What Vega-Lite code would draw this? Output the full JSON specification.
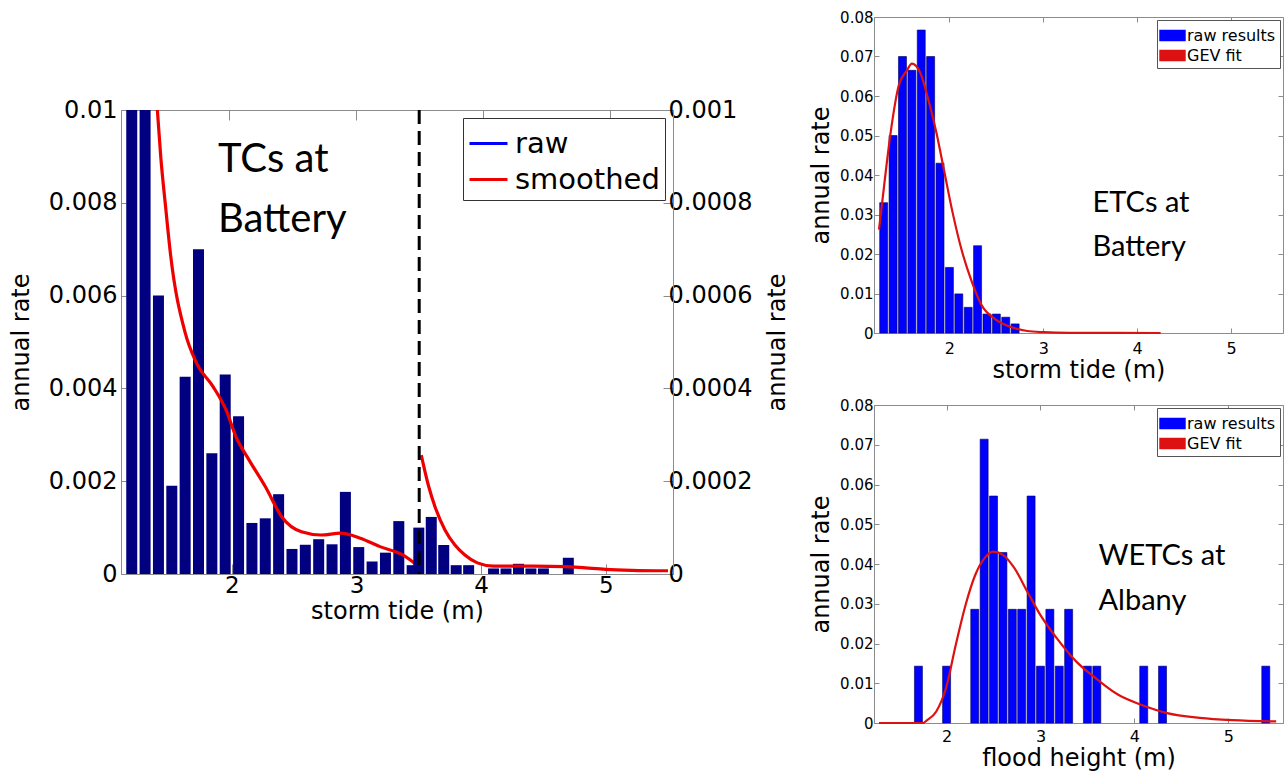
{
  "$schema": "https://vega.github.io/schema/vega-lite/v6.json",
  "padding": {"left": 8, "top": 9, "right": 0, "bottom": 0},
  "background": "white",
  "datasets": {
    "tcLowBars": [
      {"stormTide": 1.3, "rate": 0.0185}, {"stormTide": 1.4, "rate": 0.0125},
      {"stormTide": 1.5, "rate": 0.0060}, {"stormTide": 1.6, "rate": 0.0019},
      {"stormTide": 1.7, "rate": 0.00425}, {"stormTide": 1.8, "rate": 0.0070},
      {"stormTide": 1.9, "rate": 0.0026}, {"stormTide": 2.0, "rate": 0.0043},
      {"stormTide": 2.1, "rate": 0.0034}, {"stormTide": 2.2, "rate": 0.0011},
      {"stormTide": 2.3, "rate": 0.0012}, {"stormTide": 2.4, "rate": 0.00172},
      {"stormTide": 2.5, "rate": 0.00054}, {"stormTide": 2.6, "rate": 0.00063},
      {"stormTide": 2.7, "rate": 0.00075}, {"stormTide": 2.8, "rate": 0.00064},
      {"stormTide": 2.9, "rate": 0.00177}, {"stormTide": 3.0, "rate": 0.00058},
      {"stormTide": 3.1, "rate": 0.00027}, {"stormTide": 3.2, "rate": 0.00046},
      {"stormTide": 3.3, "rate": 0.00114}, {"stormTide": 3.4, "rate": 0.00019}
    ],
    "tcLowLine": [
      {"stormTide": 1.35, "rate": 0.0160}, {"stormTide": 1.43, "rate": 0.0125},
      {"stormTide": 1.492, "rate": 0.0100}, {"stormTide": 1.517, "rate": 0.0090},
      {"stormTide": 1.554, "rate": 0.0079}, {"stormTide": 1.59, "rate": 0.0069},
      {"stormTide": 1.70, "rate": 0.0052}, {"stormTide": 1.786, "rate": 0.00454},
      {"stormTide": 1.909, "rate": 0.00404}, {"stormTide": 2.007, "rate": 0.00353},
      {"stormTide": 2.08, "rate": 0.00296}, {"stormTide": 2.178, "rate": 0.00246},
      {"stormTide": 2.301, "rate": 0.00188}, {"stormTide": 2.424, "rate": 0.00123},
      {"stormTide": 2.571, "rate": 0.00091}, {"stormTide": 2.718, "rate": 0.00084},
      {"stormTide": 2.865, "rate": 0.00088}, {"stormTide": 3.012, "rate": 0.00077},
      {"stormTide": 3.159, "rate": 0.00059}, {"stormTide": 3.33, "rate": 0.00041},
      {"stormTide": 3.453, "rate": 0.00015}
    ],
    "tcHighBars": [
      {"stormTide": 3.5, "rate": 0.00010}, {"stormTide": 3.6, "rate": 0.000123},
      {"stormTide": 3.7, "rate": 0.0000625}, {"stormTide": 3.8, "rate": 0.000019},
      {"stormTide": 3.9, "rate": 0.000019}, {"stormTide": 4.1, "rate": 0.000012},
      {"stormTide": 4.2, "rate": 0.000012}, {"stormTide": 4.3, "rate": 0.000022},
      {"stormTide": 4.4, "rate": 0.000012}, {"stormTide": 4.5, "rate": 0.000012},
      {"stormTide": 4.7, "rate": 0.000035}
    ],
    "tcHighLine": [
      {"stormTide": 3.52, "rate": 0.000256}, {"stormTide": 3.58, "rate": 0.000188},
      {"stormTide": 3.63, "rate": 0.000145}, {"stormTide": 3.71, "rate": 0.000095},
      {"stormTide": 3.79, "rate": 0.0000625}, {"stormTide": 3.87, "rate": 0.000041},
      {"stormTide": 3.97, "rate": 0.000024}, {"stormTide": 4.10, "rate": 0.000017},
      {"stormTide": 4.42, "rate": 0.000017}, {"stormTide": 4.68, "rate": 0.000016},
      {"stormTide": 4.84, "rate": 0.000013}, {"stormTide": 5.0, "rate": 0.00001},
      {"stormTide": 5.21, "rate": 0.000008}, {"stormTide": 5.5, "rate": 0.000007}
    ],
    "etcBars": [
      {"stormTide": 1.3, "rate": 0.033}, {"stormTide": 1.4, "rate": 0.050},
      {"stormTide": 1.5, "rate": 0.070}, {"stormTide": 1.6, "rate": 0.0665},
      {"stormTide": 1.7, "rate": 0.0767}, {"stormTide": 1.8, "rate": 0.070},
      {"stormTide": 1.9, "rate": 0.043}, {"stormTide": 2.0, "rate": 0.0166},
      {"stormTide": 2.1, "rate": 0.0099}, {"stormTide": 2.2, "rate": 0.0065},
      {"stormTide": 2.3, "rate": 0.0221}, {"stormTide": 2.4, "rate": 0.0048},
      {"stormTide": 2.5, "rate": 0.0048}, {"stormTide": 2.6, "rate": 0.0040},
      {"stormTide": 2.7, "rate": 0.0023}
    ],
    "etcFit": [
      {"stormTide": 1.25, "rate": 0.0262}, {"stormTide": 1.305, "rate": 0.0374},
      {"stormTide": 1.375, "rate": 0.0509}, {"stormTide": 1.461, "rate": 0.0627},
      {"stormTide": 1.548, "rate": 0.0665}, {"stormTide": 1.60, "rate": 0.0682},
      {"stormTide": 1.686, "rate": 0.0661}, {"stormTide": 1.773, "rate": 0.0593},
      {"stormTide": 1.86, "rate": 0.0509}, {"stormTide": 1.946, "rate": 0.0408},
      {"stormTide": 2.033, "rate": 0.0306}, {"stormTide": 2.136, "rate": 0.0205},
      {"stormTide": 2.24, "rate": 0.0129}, {"stormTide": 2.344, "rate": 0.0070},
      {"stormTide": 2.483, "rate": 0.0036}, {"stormTide": 2.656, "rate": 0.0015},
      {"stormTide": 2.829, "rate": 0.0005}, {"stormTide": 3.003, "rate": 0.0002},
      {"stormTide": 3.279, "rate": 0.00003}, {"stormTide": 4.25, "rate": 0.0}
    ],
    "wetcBars": [
      {"floodHeight": 1.7, "rate": 0.0143}, {"floodHeight": 2.0, "rate": 0.0143},
      {"floodHeight": 2.3, "rate": 0.0286}, {"floodHeight": 2.4, "rate": 0.0714},
      {"floodHeight": 2.5, "rate": 0.0571}, {"floodHeight": 2.6, "rate": 0.0429},
      {"floodHeight": 2.7, "rate": 0.0286}, {"floodHeight": 2.8, "rate": 0.0286},
      {"floodHeight": 2.9, "rate": 0.0571}, {"floodHeight": 3.0, "rate": 0.0143},
      {"floodHeight": 3.1, "rate": 0.0286}, {"floodHeight": 3.2, "rate": 0.0143},
      {"floodHeight": 3.3, "rate": 0.0286}, {"floodHeight": 3.5, "rate": 0.0143},
      {"floodHeight": 3.6, "rate": 0.0143}, {"floodHeight": 4.1, "rate": 0.0143},
      {"floodHeight": 4.3, "rate": 0.0143}, {"floodHeight": 5.4, "rate": 0.0143}
    ],
    "wetcFit": [
      {"floodHeight": 1.28, "rate": 0.0}, {"floodHeight": 1.751, "rate": 0.0},
      {"floodHeight": 1.786, "rate": 0.0006}, {"floodHeight": 1.89, "rate": 0.0029},
      {"floodHeight": 1.994, "rate": 0.0088}, {"floodHeight": 2.098, "rate": 0.0197},
      {"floodHeight": 2.202, "rate": 0.0297}, {"floodHeight": 2.306, "rate": 0.0373},
      {"floodHeight": 2.409, "rate": 0.0416}, {"floodHeight": 2.496, "rate": 0.0431},
      {"floodHeight": 2.60, "rate": 0.0423}, {"floodHeight": 2.721, "rate": 0.0390},
      {"floodHeight": 2.859, "rate": 0.0331}, {"floodHeight": 2.998, "rate": 0.0272},
      {"floodHeight": 3.171, "rate": 0.0214}, {"floodHeight": 3.379, "rate": 0.0155},
      {"floodHeight": 3.587, "rate": 0.0113}, {"floodHeight": 3.829, "rate": 0.0071},
      {"floodHeight": 4.072, "rate": 0.0046}, {"floodHeight": 4.348, "rate": 0.0025},
      {"floodHeight": 4.695, "rate": 0.0013}, {"floodHeight": 5.041, "rate": 0.0007},
      {"floodHeight": 5.51, "rate": 0.0004}
    ]
  },
  "hconcat": [
    {
      "vconcat": [
        {
          "width": 552,
          "height": 70,
          "view": {"stroke": null},
          "data": {"values": [{}]},
          "mark": {"type": "point", "opacity": 0}
        },
        {
          "width": 552,
          "height": 464,
          "layer": [
            {
              "encoding": {
                "x": {"field": "stormTide", "type": "quantitative", "scale": {"domain": [1.257, 5.316], "nice": false, "zero": false}, "axis": null},
                "y": {"field": "rate", "type": "quantitative", "scale": {"domain": [0, 0.01], "nice": false},
                  "axis": {"orient": "left", "title": "annual rate", "values": [0, 0.002, 0.004, 0.006, 0.008, 0.01], "format": ".3~f",
                    "labelFontSize": 24, "titleFontSize": 24, "tickSize": -10, "labelPadding": 14, "titlePadding": 15}}
              },
              "layer": [
                {"data": {"name": "tcLowBars"}, "mark": {"type": "bar", "color": "#000080", "width": 11, "clip": true}},
                {"data": {"name": "tcLowLine"}, "mark": {"type": "line", "strokeWidth": 3.2, "clip": true, "interpolate": "monotone"},
                  "encoding": {"color": {"datum": "smoothed", "scale": {"domain": ["raw", "smoothed"], "range": ["#0000ff", "#ee0000"]},
                    "legend": {"title": null, "orient": "top-right", "offset": 8, "labelFontSize": 29, "labelFont": "DejaVu Sans", "symbolSize": 1444, "symbolStrokeWidth": 3, "symbolType": "stroke", "strokeColor": "#333333", "fillColor": "#ffffff", "padding": 5, "rowPadding": 0, "labelOffset": 6, "labelLimit": 400}}}}
              ]
            },
            {
              "encoding": {
                "x": {"field": "stormTide", "type": "quantitative", "scale": {"domain": [1.15, 5.5], "nice": false, "zero": false},
                  "axis": {"orient": "bottom", "title": "storm tide (m)", "values": [2, 3, 4, 5], "labelFontSize": 23, "titleFontSize": 24, "tickSize": -10, "labelPadding": 10, "titlePadding": 2}},
                "y": {"field": "rate", "type": "quantitative", "scale": {"domain": [0, 0.001], "nice": false},
                  "axis": {"orient": "right", "title": "annual rate", "values": [0, 0.0002, 0.0004, 0.0006, 0.0008, 0.001], "format": ".4~f",
                    "labelFontSize": 24, "titleFontSize": 24, "tickSize": -10, "labelPadding": 5, "titlePadding": 14, "titleAngle": 270, "titleBaseline": "top"}}
              },
              "layer": [
                {"data": {"name": "tcHighBars"}, "mark": {"type": "bar", "color": "#000080", "width": 11, "clip": true}},
                {"data": {"name": "tcHighLine"}, "mark": {"type": "line", "strokeWidth": 3.2, "clip": true, "interpolate": "monotone"},
                  "encoding": {"color": {"datum": "smoothed", "scale": {"domain": ["raw", "smoothed"], "range": ["#0000ff", "#ee0000"]}}}}
              ]
            },
            {
              "data": {"values": [{}]},
              "mark": {"type": "rule", "color": "#000000", "strokeWidth": 3, "strokeDash": [14, 7]},
              "encoding": {"x": {"datum": 3.5, "type": "quantitative", "scale": {"domain": [1.15, 5.5], "nice": false, "zero": false},
                "axis": {"orient": "top", "values": [2, 3, 4, 5], "labels": false, "title": null, "domain": false, "tickSize": -10}}}
            },
            {
              "data": {"values": [{"note": "TCs at\nBattery"}]},
              "mark": {"type": "text", "font": "Lato", "fontSize": 40, "align": "left", "baseline": "alphabetic", "lineBreak": "\n", "lineHeight": 60, "color": "#000000"},
              "encoding": {
                "x": {"datum": 1.97, "type": "quantitative", "scale": {"domain": [1.257, 5.316], "nice": false, "zero": false}, "axis": null},
                "y": {"datum": 0.00866, "type": "quantitative", "scale": {"domain": [0, 0.01], "nice": false}, "axis": null},
                "text": {"field": "note"}}
            }
          ],
          "resolve": {"scale": {"x": "independent", "y": "independent"}, "axis": {"x": "independent", "y": "independent"}}
        }
      ],
      "spacing": 10,
      "resolve": {"scale": {"color": "independent"}, "legend": {"color": "independent"}}
    },
    {
      "vconcat": [
        {
          "width": 409,
          "height": 316,
          "layer": [
            {"data": {"name": "etcBars"}, "mark": {"type": "bar", "stroke": "#00005a", "strokeWidth": 0.6, "width": 8},
              "encoding": {
                "x": {"field": "stormTide", "type": "quantitative", "scale": {"domain": [1.25, 5.5], "nice": false, "zero": false},
                  "axis": {"orient": "bottom", "title": "storm tide (m)", "values": [2, 3, 4, 5], "labelFontSize": 16, "titleFontSize": 24, "tickSize": -5, "labelPadding": 12, "titlePadding": 2}},
                "y": {"field": "rate", "type": "quantitative", "scale": {"domain": [0, 0.08], "nice": false},
                  "axis": {"orient": "left", "title": "annual rate", "values": [0, 0.01, 0.02, 0.03, 0.04, 0.05, 0.06, 0.07, 0.08], "format": ".2~f", "labelFontSize": 15, "titleFontSize": 24, "tickSize": -5, "labelPadding": 6, "titlePadding": 6}},
                "color": {"datum": "raw results", "scale": {"domain": ["raw results", "GEV fit"], "range": ["#0000ff", "#dd1111"]},
                  "legend": {"title": null, "orient": "top-right", "offset": 3, "labelFontSize": 16, "labelFont": "DejaVu Sans", "symbolSize": 529, "symbolStrokeWidth": 0, "symbolOpacity": 1, "symbolType": "M-1.15,-0.5H1.15V0.5H-1.15Z", "strokeColor": "#555555", "fillColor": "#ffffff", "padding": 4, "rowPadding": 0, "labelOffset": 3}}
              }},
            {"data": {"name": "etcFit"}, "mark": {"type": "line", "strokeWidth": 2.2, "interpolate": "monotone"},
              "encoding": {
                "x": {"field": "stormTide", "type": "quantitative", "axis": {"orient": "top", "values": [2, 3, 4, 5], "labels": false, "title": null, "domain": false, "tickSize": -5}},
                "y": {"field": "rate", "type": "quantitative", "axis": {"orient": "right", "values": [0, 0.01, 0.02, 0.03, 0.04, 0.05, 0.06, 0.07, 0.08], "labels": false, "title": null, "domain": false, "tickSize": -5}},
                "color": {"datum": "GEV fit"}
              }},
            {"data": {"values": [{"note": "ETCs at\nBattery"}]},
              "mark": {"type": "text", "font": "Lato", "fontSize": 29, "align": "left", "baseline": "alphabetic", "lineBreak": "\n", "lineHeight": 44, "color": "#000000"},
              "encoding": {"x": {"datum": 3.525, "type": "quantitative", "axis": null}, "y": {"datum": 0.0306, "type": "quantitative", "axis": null}, "text": {"field": "note"}}}
          ],
          "resolve": {"axis": {"x": "independent", "y": "independent"}}
        },
        {
          "width": 409,
          "height": 318,
          "layer": [
            {"data": {"name": "wetcBars"}, "mark": {"type": "bar", "stroke": "#00005a", "strokeWidth": 0.6, "width": 8},
              "encoding": {
                "x": {"field": "floodHeight", "type": "quantitative", "scale": {"domain": [1.28, 5.53], "nice": false, "zero": false},
                  "axis": {"orient": "bottom", "title": "flood height (m)", "values": [2, 3, 4, 5], "labelFontSize": 16, "titleFontSize": 24, "tickSize": -5, "labelPadding": 10, "titlePadding": 2}},
                "y": {"field": "rate", "type": "quantitative", "scale": {"domain": [0, 0.08], "nice": false},
                  "axis": {"orient": "left", "title": "annual rate", "values": [0, 0.01, 0.02, 0.03, 0.04, 0.05, 0.06, 0.07, 0.08], "format": ".2~f", "labelFontSize": 15, "titleFontSize": 24, "tickSize": -5, "labelPadding": 6, "titlePadding": 6}},
                "color": {"datum": "raw results", "scale": {"domain": ["raw results", "GEV fit"], "range": ["#0000ff", "#dd1111"]},
                  "legend": {"title": null, "orient": "top-right", "offset": 3, "labelFontSize": 16, "labelFont": "DejaVu Sans", "symbolSize": 529, "symbolStrokeWidth": 0, "symbolOpacity": 1, "symbolType": "M-1.15,-0.5H1.15V0.5H-1.15Z", "strokeColor": "#555555", "fillColor": "#ffffff", "padding": 4, "rowPadding": 0, "labelOffset": 3}}
              }},
            {"data": {"name": "wetcFit"}, "mark": {"type": "line", "strokeWidth": 2.2, "interpolate": "monotone"},
              "encoding": {
                "x": {"field": "floodHeight", "type": "quantitative", "axis": {"orient": "top", "values": [2, 3, 4, 5], "labels": false, "title": null, "domain": false, "tickSize": -5}},
                "y": {"field": "rate", "type": "quantitative", "axis": {"orient": "right", "values": [0, 0.01, 0.02, 0.03, 0.04, 0.05, 0.06, 0.07, 0.08], "labels": false, "title": null, "domain": false, "tickSize": -5}},
                "color": {"datum": "GEV fit"}
              }},
            {"data": {"values": [{"note": "WETCs at\nAlbany"}]},
              "mark": {"type": "text", "font": "Lato", "fontSize": 29, "align": "left", "baseline": "alphabetic", "lineBreak": "\n", "lineHeight": 45, "color": "#000000"},
              "encoding": {"x": {"datum": 3.618, "type": "quantitative", "axis": null}, "y": {"datum": 0.0397, "type": "quantitative", "axis": null}, "text": {"field": "note"}}}
          ],
          "resolve": {"axis": {"x": "independent", "y": "independent"}}
        }
      ],
      "spacing": 14,
      "resolve": {"scale": {"color": "independent", "x": "independent", "y": "independent"}, "legend": {"color": "independent"}}
    }
  ],
  "spacing": 18,
  "resolve": {"scale": {"color": "independent", "x": "independent", "y": "independent"}, "legend": {"color": "independent"}},
  "config": {
    "font": "DejaVu Sans",
    "view": {"stroke": "#8c8c8c", "strokeWidth": 1},
    "axis": {"grid": false, "domainColor": "#8c8c8c", "tickColor": "#8c8c8c", "labelColor": "#000000", "titleColor": "#000000", "titleFontWeight": "normal", "labelFont": "DejaVu Sans", "titleFont": "DejaVu Sans"},
    "legend": {"labelColor": "#000000"}
  }
}
